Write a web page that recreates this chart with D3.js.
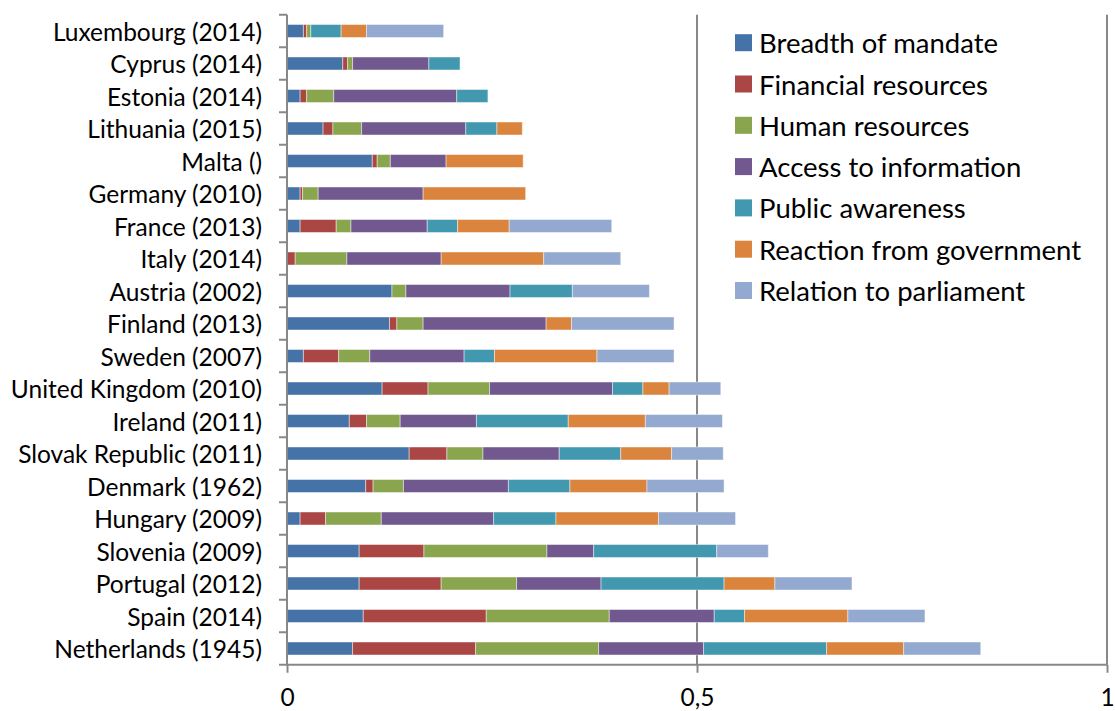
<!DOCTYPE html>
<html>
<head>
<meta charset="utf-8">
<script src="https://cdn.jsdelivr.net/npm/d3@7"></script>
<style>
  html, body { margin: 0; padding: 0; background: #fff; }
  svg { display: block; }
  text { font-family: Lato, "Open Sans", sans-serif; fill: #000; }
</style>
</head>
<body>
<svg id="chart" width="1115" height="711"></svg>
<script>
// ---- data (top to bottom) ----
const categories = [
  "Luxembourg (2014)", "Cyprus (2014)", "Estonia (2014)", "Lithuania (2015)",
  "Malta ()", "Germany (2010)", "France (2013)", "Italy (2014)",
  "Austria (2002)", "Finland (2013)", "Sweden (2007)", "United Kingdom (2010)",
  "Ireland (2011)", "Slovak Republic (2011)", "Denmark (1962)", "Hungary (2009)",
  "Slovenia (2009)", "Portugal (2012)", "Spain (2014)", "Netherlands (1945)"
];
const seriesNames = [
  "Breadth of mandate", "Financial resources", "Human resources",
  "Access to information", "Public awareness", "Reaction from government",
  "Relation to parliament"
];
const breadthOfMandate     = [0.020,0.068,0.016,0.044,0.104,0.016,0.016,0.000,0.128,0.125,0.020,0.116,0.076,0.149,0.096,0.016,0.088,0.088,0.093,0.080];
const financialResources   = [0.004,0.006,0.008,0.012,0.006,0.003,0.044,0.010,0.000,0.009,0.043,0.056,0.021,0.046,0.009,0.031,0.079,0.100,0.150,0.150];
const humanResources       = [0.005,0.006,0.033,0.035,0.016,0.019,0.018,0.063,0.017,0.032,0.038,0.075,0.041,0.044,0.037,0.068,0.150,0.092,0.150,0.150];
const accessToInformation  = [0.000,0.093,0.150,0.127,0.068,0.128,0.093,0.115,0.127,0.150,0.115,0.150,0.093,0.093,0.128,0.137,0.057,0.103,0.128,0.128];
const publicAwareness      = [0.037,0.038,0.038,0.038,0.000,0.000,0.037,0.000,0.076,0.000,0.037,0.037,0.112,0.075,0.075,0.076,0.150,0.150,0.037,0.150];
const reactionFromGovt     = [0.031,0.000,0.000,0.031,0.094,0.125,0.063,0.125,0.000,0.031,0.125,0.032,0.094,0.062,0.094,0.125,0.000,0.062,0.126,0.094];
const relationToParliament = [0.094,0.000,0.000,0.000,0.000,0.000,0.125,0.094,0.094,0.125,0.094,0.063,0.094,0.063,0.094,0.094,0.063,0.094,0.094,0.094];
const xTickValues = [0, 0.5, 1];
const colors = ["#4572A7", "#AA4643", "#89A54E", "#71588F", "#4198AF", "#DB843D", "#93A9CF"];

const seriesArrays = [breadthOfMandate, financialResources, humanResources,
  accessToInformation, publicAwareness, reactionFromGovt, relationToParliament];

const rows = categories.map((c, i) => {
  const r = { category: c };
  seriesNames.forEach((s, j) => r[s] = seriesArrays[j][i]);
  return r;
});

// ---- layout ----
const svg = d3.select("#chart");
const x = d3.scaleLinear().domain([0, 1]).range([287, 1107]);
const y = d3.scaleBand().domain(categories).range([14.75, 664.75])
  .paddingInner(0.6).paddingOuter(0.3);
const color = d3.scaleOrdinal().domain(seriesNames).range(colors);
const axisColor = "#888888";
const locale = d3.formatLocale({ decimal: ",", thousands: ".", grouping: [3], currency: ["", "€"] });
const fmt = locale.format("~g");

// gridlines at 0.5 and 1
svg.append("g").selectAll("line").data(xTickValues.filter(d => d > 0)).join("line")
  .attr("x1", d => x(d)).attr("x2", d => x(d))
  .attr("y1", 14.75).attr("y2", 664.75)
  .attr("stroke", axisColor).attr("stroke-width", 2);

// bars
const stacked = d3.stack().keys(seriesNames)(rows);
svg.append("g").selectAll("g").data(stacked).join("g")
  .attr("fill", d => color(d.key))
  .selectAll("rect").data(d => d.filter(p => p[1] - p[0] > 0)).join("rect")
  .attr("x", d => x(d[0]))
  .attr("width", d => x(d[1]) - x(d[0]))
  .attr("y", d => y(d.data.category))
  .attr("height", y.bandwidth())
  .attr("stroke", "rgba(255,255,255,0.45)")
  .attr("stroke-width", 1);

// y axis: line, boundary ticks, labels
const step = y.step();
const yAxisG = svg.append("g");
yAxisG.append("line").attr("x1", 287).attr("x2", 287).attr("y1", 14.75).attr("y2", 664.75)
  .attr("stroke", axisColor).attr("stroke-width", 2);
yAxisG.selectAll("line.tick").data(d3.range(categories.length + 1)).join("line")
  .attr("class", "tick")
  .attr("x1", 279).attr("x2", 287)
  .attr("y1", i => 14.75 + i * step).attr("y2", i => 14.75 + i * step)
  .attr("stroke", axisColor).attr("stroke-width", 2);
yAxisG.selectAll("text").data(categories).join("text")
  .attr("x", 262)
  .attr("y", d => y(d) + y.bandwidth() / 2)
  .attr("text-anchor", "end")
  .attr("dominant-baseline", "central")
  .attr("font-size", 24.5)
  .text(d => d);

// x axis
const xAxis = d3.axisBottom(x).tickValues(xTickValues).tickFormat(fmt).tickSize(8).tickPadding(16);
const xg = svg.append("g").attr("transform", "translate(0,664.75)").call(xAxis);
xg.select(".domain").attr("stroke", axisColor).attr("stroke-width", 2).attr("d", "M287,0H1107");
xg.selectAll(".tick line").attr("stroke", axisColor).attr("stroke-width", 2);
xg.selectAll(".tick text").attr("font-size", 24.5).attr("fill", "#000")
  .style("font-family", "Lato, 'Open Sans', sans-serif");

// legend
const legend = svg.append("g");
const li = legend.selectAll("g").data(seriesNames).join("g")
  .attr("transform", (d, i) => `translate(735, ${42.7 + i * 41.3})`);
li.append("rect").attr("x", 0).attr("y", -8.5).attr("width", 17).attr("height", 17)
  .attr("fill", d => color(d));
li.append("text").attr("x", 24).attr("y", 0).attr("dominant-baseline", "central")
  .attr("font-size", 27.5).text(d => d);
</script>
</body>
</html>
